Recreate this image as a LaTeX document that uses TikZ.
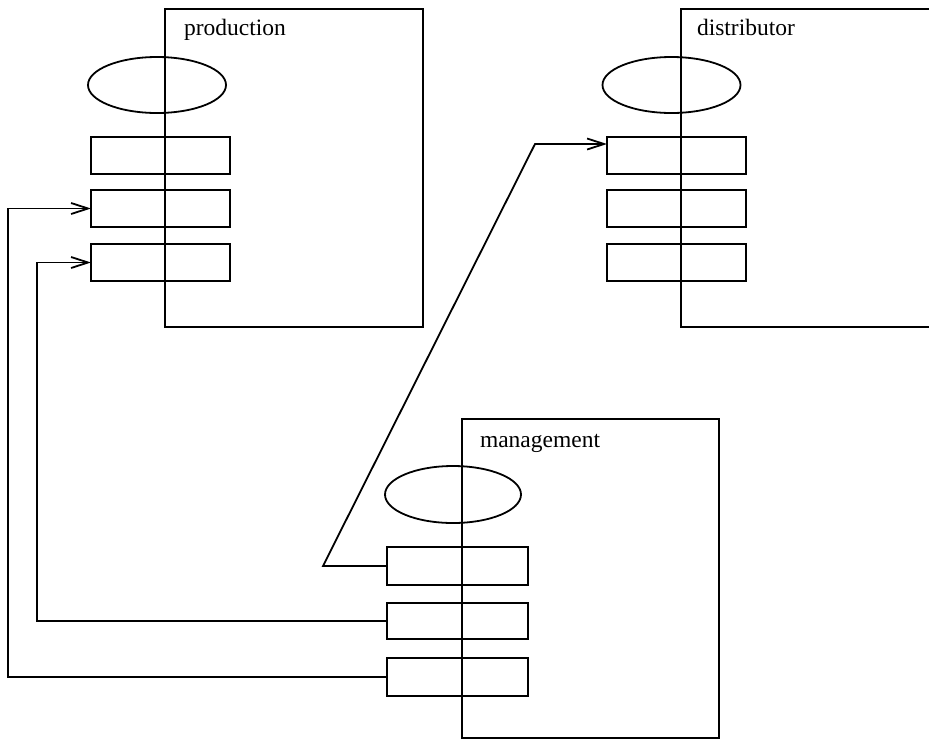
\documentclass[tikz,border=0pt]{standalone}
\usepackage{fontspec}
\setmainfont{Liberation Serif}
\usetikzlibrary{shapes.geometric,arrows.meta}
\begin{document}
\begin{tikzpicture}[x=1pt,y=-1pt,
  every node/.style={inner sep=0pt,outer sep=0pt},
  line width=1.8pt,
  agent/.style={draw,rectangle},
  slot/.style={draw,rectangle,minimum width=139pt,minimum height=37pt},
  oval/.style={draw,ellipse,minimum width=138pt,minimum height=56pt},
  lab/.style={anchor=base west,font=\fontsize{23.5}{26}\selectfont},
  conn/.style={line width=1.8pt},
  arr/.style={conn,-{Straight Barb[length=17pt,width=11pt,line width=1.8pt]}}]
\useasboundingbox (0,0) rectangle (929,740);
\clip (0,0) rectangle (929,740);
% production
\node[agent,minimum width=258pt,minimum height=318pt] (prodbox) at (294,168) {};
\node[lab] (prodlab) at (184,35) {production};
\node[oval] (prodell) at (157,85) {};
\node[slot] (prodr1) at (160.5,155.5) {};
\node[slot] (prodr2) at (160.5,208.5) {};
\node[slot] (prodr3) at (160.5,262.5) {};
% distributor
\node[agent,minimum width=280pt,minimum height=318pt] (disbox) at (821,168) {};
\node[lab] (dislab) at (697,35) {distributor};
\node[oval] (disell) at (671.5,85) {};
\node[slot] (disr1) at (676.5,155.5) {};
\node[slot] (disr2) at (676.5,208.5) {};
\node[slot] (disr3) at (676.5,262.5) {};
% management
\node[agent,minimum width=257pt,minimum height=319pt] (mgbox) at (590.5,578.5) {};
\node[lab] (mglab) at (480,447) {management};
\node[oval,minimum width=136pt,minimum height=57pt] (mgell) at (453,494.5) {};
\node[slot,minimum width=141pt,minimum height=38pt] (mgr1) at (457.5,566) {};
\node[slot,minimum width=141pt,minimum height=36pt] (mgr2) at (457.5,621) {};
\node[slot,minimum width=141pt,minimum height=38pt] (mgr3) at (457.5,677) {};
% connectors
\coordinate (c1) at (8,677);
\coordinate (c2) at (37,621);
\coordinate (c3) at (323,566);
\coordinate (c4) at (535,144);
\draw[arr] (mgr3.west) -- (c1) |- (prodr2.west);
\draw[arr] (mgr2.west) -- (c2) |- (prodr3.west);
\draw[arr] (mgr1.west) -- (c3) -- (c4) -- (disr1.west |- c4);
\end{tikzpicture}
\end{document}
